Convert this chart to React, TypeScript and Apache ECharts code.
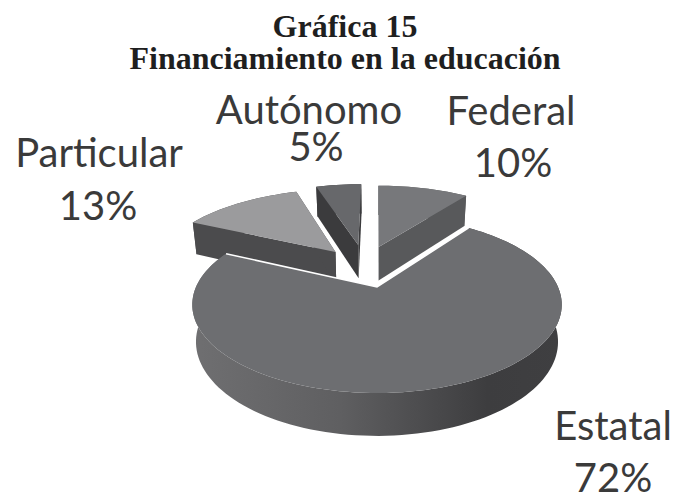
import React, { useEffect, useRef } from "react";
import * as echarts from "echarts";

const categories = ["Federal", "Estatal", "Particular", "Autónomo"];
const shares = [10, 72, 13, 5];
const titleLines = ["Gráfica 15", "Financiamiento en la educación"];

// drawing style, per slice
const topColors = ["#77787b", "#6d6e71", "#9b9b9d", "#67686b"];
const sideColors = ["#58595b", "#4a4a4c", "#4b4b4d", "#3b3b3d"];
const offsets = [[0.01, 0.52, 1.05], [0, 0, 1], [-0.25, 0.45, 1.05], [-0.115, 0.55, 1.05]];
const ranks = [1, 3, 2, 0];
const nameAnchors = [[511, 110], [613, 425], [99, 152], [309, 109]];
const shareAnchors = [[513, 162], [613, 477], [98, 205], [316, 146]];

const CX = 377, CY = 287, A = 181, B = 84.8, K = 0.2, D = 36;

function project(u: number, v: number, z: number) {
  const w = 1 + K * v;
  const s = 1 - 0.02 * z;
  return [CX + (A * u / w) * s, CY - (B * v / w) * s + (D * z) / w];
}

function labelText(text: string, pos: number[]) {
  return {
    type: "text", z2: 100, x: pos[0], y: pos[1],
    style: { text, fill: "#3a3a3a", font: "40px Lato", align: "center", verticalAlign: "middle" },
  };
}

function renderSlice(params: any, api: any) {
  const i = params.dataIndex;
  const total = shares.reduce((a, b) => a + b, 0);
  const before = shares.slice(0, i).reduce((a, b) => a + b, 0);
  const value = api.value(0);
  const a0 = (before / total) * Math.PI * 2;
  const a1 = ((before + value) / total) * Math.PI * 2;
  const [du, dv, scale] = offsets[i];
  const steps = Math.max(8, Math.round((value / total) * 180));
  const pt = (t: number, z: number, r = scale) => project(du + r * Math.sin(t), dv + r * Math.cos(t), z);
  const arc = (z: number) => {
    const out: number[][] = [];
    for (let s = 0; s <= steps; s++) out.push(pt(a0 + ((a1 - a0) * s) / steps, z));
    return out;
  };
  const apex = (z: number) => project(du, dv, z);
  const topArc = arc(0), botArc = arc(1);
  const z2 = ranks[i] * 10;
  const side = i === 1
    ? new echarts.graphic.LinearGradient(0, 0, 1, 0, [
        { offset: 0, color: "#6f6f71" },
        { offset: 0.4, color: "#5f5f61" },
        { offset: 0.8, color: "#3d3d3f" },
        { offset: 1, color: "#3f3f41" },
      ])
    : sideColors[i];
  const children: any[] = [
    { type: "polygon", z2, shape: { points: [...topArc, ...botArc.slice().reverse()] }, style: { fill: side } },
    { type: "polygon", z2: z2 + 1, shape: { points: [apex(0), topArc[0], botArc[0], apex(1)] }, style: { fill: sideColors[i] } },
    { type: "polygon", z2: z2 + 1, shape: { points: [apex(0), topArc[steps], botArc[steps], apex(1)] }, style: { fill: sideColors[i] } },
    { type: "polygon", z2: z2 + 2, shape: { points: [apex(0), ...topArc] }, style: { fill: topColors[i] } },
  ];
  if (i === 1) {
    children.push({
      type: "polyline", z2: z2 + 3,
      shape: { points: [topArc[0], apex(0), topArc[steps]] },
      style: { stroke: "#ffffff", lineWidth: 1.5, fill: "none" },
    });
  }
  children.push(labelText(categories[i], nameAnchors[i]));
  children.push(labelText(`${value}%`, shareAnchors[i]));
  return { type: "group", children };
}

export default function App() {
  const ref = useRef<HTMLDivElement>(null);
  useEffect(() => {
    document.body.style.margin = "0";
    const chart = echarts.init(ref.current!, undefined, { renderer: "svg" });
    chart.setOption({
      animation: false,
      backgroundColor: "#ffffff",
      title: {
        text: titleLines.join("\n"),
        left: 340, textAlign: "center", top: 5,
        textStyle: { fontFamily: "Liberation Serif", fontWeight: "bold", fontSize: 32, lineHeight: 32, color: "#1f1f1f" },
      },
      series: [{
        type: "custom",
        coordinateSystem: "none",
        renderItem: renderSlice,
        data: shares.map((v) => [v]),
      }],
    });
    return () => chart.dispose();
  }, []);
  return <div ref={ref} style={{ width: 673, height: 492 }} />;
}
